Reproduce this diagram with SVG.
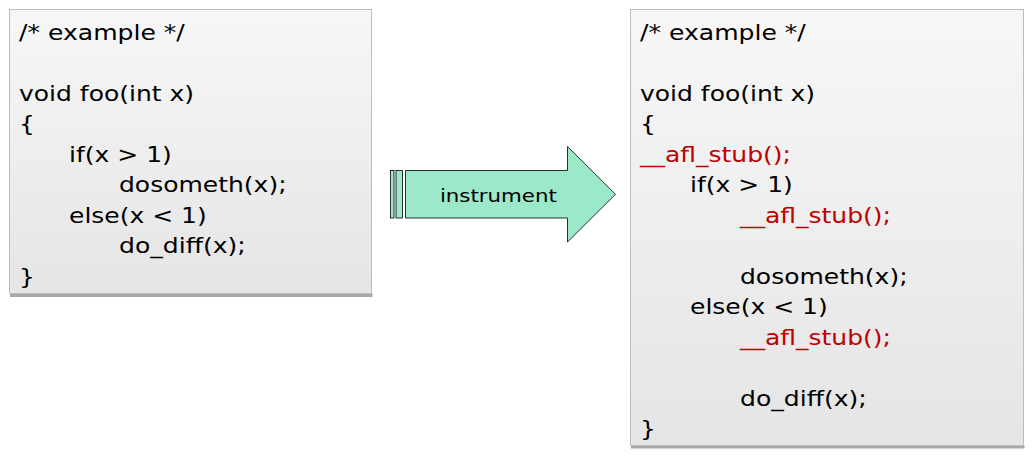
<svg xmlns="http://www.w3.org/2000/svg" width="1035" height="462" viewBox="0 0 1035 462">
<defs>
<linearGradient id="boxgrad" x1="0" y1="0" x2="0" y2="1">
<stop offset="0" stop-color="#f7f7f7"/>
<stop offset="1" stop-color="#e5e5e5"/>
</linearGradient>
<style>
.box{fill:url(#boxgrad);stroke:#bdbdbd;stroke-width:1}
.shadow{fill:#a8a8a8}
.code{font-family:"DejaVu Sans","Liberation Sans",sans-serif;font-size:21px;fill:#000}
.stub{fill:#c00000}
.arrow{fill:#9be9c8;stroke:#000;stroke-width:0.8}
.lbl{font-family:"DejaVu Sans","Liberation Sans",sans-serif;font-size:17px;fill:#000}
</style>
</defs>
<rect width="1035" height="462" fill="#fff"/>
<g id="source">
<rect class="shadow" x="10" y="293.5" width="362.5" height="3.5"/>
<rect class="box" x="9.5" y="9.5" width="362" height="284"/>
<text class="code" x="19" y="39.5" textLength="165.8" lengthAdjust="spacingAndGlyphs">/* example */</text>
<text class="code" x="19" y="100.5" textLength="175.1" lengthAdjust="spacingAndGlyphs">void foo(int x)</text>
<text class="code" x="19" y="131" textLength="15.9" lengthAdjust="spacingAndGlyphs">{</text>
<text class="code" x="69" y="161.5" textLength="102.8" lengthAdjust="spacingAndGlyphs">if(x &gt; 1)</text>
<text class="code" x="119" y="192" textLength="167.6" lengthAdjust="spacingAndGlyphs">dosometh(x);</text>
<text class="code" x="69" y="222.5" textLength="137.8" lengthAdjust="spacingAndGlyphs">else(x &lt; 1)</text>
<text class="code" x="119" y="253" textLength="126.8" lengthAdjust="spacingAndGlyphs">do_diff(x);</text>
<text class="code" x="19" y="283.5" textLength="15.9" lengthAdjust="spacingAndGlyphs">}</text>
</g>
<g id="instrumented">
<rect class="shadow" x="631" y="445.5" width="393.5" height="3"/>
<rect class="box" x="630.5" y="9.5" width="393" height="436"/>
<text class="code" x="640" y="39.5" textLength="165.8" lengthAdjust="spacingAndGlyphs">/* example */</text>
<text class="code" x="640" y="100.5" textLength="175.1" lengthAdjust="spacingAndGlyphs">void foo(int x)</text>
<text class="code" x="640" y="131" textLength="15.9" lengthAdjust="spacingAndGlyphs">{</text>
<text class="code stub" x="640" y="161.5" textLength="151" lengthAdjust="spacingAndGlyphs">__afl_stub();</text>
<text class="code" x="690" y="192" textLength="102.8" lengthAdjust="spacingAndGlyphs">if(x &gt; 1)</text>
<text class="code stub" x="740" y="222.5" textLength="151" lengthAdjust="spacingAndGlyphs">__afl_stub();</text>
<text class="code" x="740" y="283.5" textLength="167.6" lengthAdjust="spacingAndGlyphs">dosometh(x);</text>
<text class="code" x="690" y="314" textLength="137.8" lengthAdjust="spacingAndGlyphs">else(x &lt; 1)</text>
<text class="code stub" x="740" y="344.5" textLength="151" lengthAdjust="spacingAndGlyphs">__afl_stub();</text>
<text class="code" x="740" y="405.5" textLength="126.8" lengthAdjust="spacingAndGlyphs">do_diff(x);</text>
<text class="code" x="640" y="436" textLength="15.9" lengthAdjust="spacingAndGlyphs">}</text>
</g>
<g id="connectors">
<g id="instrument-arrow">
<rect class="arrow" x="390.5" y="170.5" width="3.5" height="47.5"/>
<rect class="arrow" x="396" y="170.5" width="6.5" height="47.5"/>
<polygon class="arrow" points="405.5,170.5 567.5,170.5 567.5,146.5 615.5,194.3 567.5,242 567.5,218 405.5,218"/>
<text class="lbl" x="498.4" y="202" text-anchor="middle" textLength="117" lengthAdjust="spacingAndGlyphs">instrument</text>
</g>
</g>
</svg>
